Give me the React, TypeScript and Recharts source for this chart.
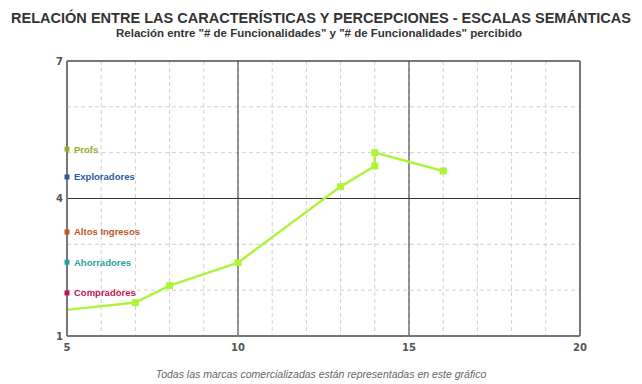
import {
  CartesianGrid,
  Line,
  LineChart,
  ReferenceLine,
  Scatter,
  XAxis,
  YAxis,
} from 'recharts'

const funcionalidades = [5, 7, 8, 10, 13, 14, 14, 16]
const percibido = [1.57, 1.73, 2.1, 2.6, 4.26, 4.71, 5.0, 4.6]

const segmentos = ['Profs', 'Exploradores', 'Altos Ingresos', 'Ahorradores', 'Compradores']
const segmentoValores = [5.08, 4.47, 3.27, 2.61, 1.94]
const segmentoColores = ['#9aab2a', '#2d5b9b', '#c0561c', '#1fa3a0', '#c2134f']

const xTicks = [5, 6, 7, 8, 9, 10, 11, 12, 13, 14, 15, 16, 17, 18, 19, 20]
const yTicks = [1, 2, 3, 4, 5, 6, 7]
const xLabels = [5, 10, 15, 20]
const yLabels = [1, 4, 7]

const lineData = funcionalidades.map((x, i) => ({ x, y: percibido[i] }))
const segData = segmentos.map((name, i) => ({
  x: 5,
  s: segmentoValores[i],
  name,
  color: segmentoColores[i],
}))

const GREEN = '#adf53a'

const tickStyle = {
  fontSize: 10,
  fontWeight: 'bold' as const,
  fill: '#555',
  fontFamily: 'Tahoma, "DejaVu Sans", sans-serif',
}

function LineDot(props: any) {
  const { cx, cy, index } = props
  if (index === 0 || cx == null) return <g />
  return <rect x={cx - 3.5} y={cy - 3.5} width={7} height={7} fill={GREEN} />
}

function SegShape(props: any) {
  const { cx, cy, payload } = props
  return (
    <g>
      <rect x={cx - 2.5} y={cy - 2.5} width={5} height={5} fill={payload.color} />
      <text
        x={cx + 7}
        y={cy + 3.5}
        fontSize={9.5}
        fontWeight="bold"
        fill={payload.color}
        fontFamily='"Liberation Sans Narrow", "Liberation Sans", Arial, sans-serif'
      >
        {payload.name}
      </text>
    </g>
  )
}

export default function App() {
  return (
    <div
      style={{
        position: 'absolute',
        left: 0,
        top: 0,
        width: 642,
        height: 384,
        background: '#fff',
        fontFamily: '"Liberation Sans", Arial, sans-serif',
      }}
    >
      <svg
        width={642}
        height={44}
        style={{ position: 'absolute', left: 0, top: 0 }}
      >
        <text
          x={321}
          y={23}
          textAnchor="middle"
          fontSize={14}
          fontWeight="bold"
          fill="#333"
          textLength={620}
          lengthAdjust="spacingAndGlyphs"
        >
          RELACIÓN ENTRE LAS CARACTERÍSTICAS Y PERCEPCIONES - ESCALAS SEMÁNTICAS
        </text>
        <text
          x={319}
          y={37}
          textAnchor="middle"
          fontSize={11.5}
          fontWeight="bold"
          fill="#333"
        >
          Relación entre "# de Funcionalidades" y "# de Funcionalidades" percibido
        </text>
      </svg>
      <LineChart
        width={642}
        height={384}
        data={lineData}
        margin={{ top: 61, right: 62, bottom: 28, left: 37 }}
      >
        <CartesianGrid stroke="#d0d0d0" strokeDasharray="4 3" />
        <XAxis
          dataKey="x"
          type="number"
          domain={[5, 20]}
          ticks={xTicks}
          interval={0}
          tickLine={false}
          tickSize={0}
          tickMargin={8}
          axisLine={{ stroke: '#777', strokeWidth: 2 }}
          height={20}
          tick={tickStyle}
          tickFormatter={(v: number) => (xLabels.includes(v) ? String(v) : '')}
        />
        <YAxis
          type="number"
          domain={[1, 7]}
          ticks={yTicks}
          interval={0}
          tickLine={false}
          tickSize={0}
          tickMargin={4}
          axisLine={{ stroke: '#777', strokeWidth: 2 }}
          width={30}
          tick={tickStyle}
          tickFormatter={(v: number) => (yLabels.includes(v) ? String(v) : '')}
        />
        <ReferenceLine y={7} stroke="#777" strokeWidth={2} />
        <ReferenceLine x={20} stroke="#777" strokeWidth={2} />
        <ReferenceLine x={10} stroke="#333" strokeWidth={1} />
        <ReferenceLine x={15} stroke="#333" strokeWidth={1} />
        <ReferenceLine y={4} stroke="#333" strokeWidth={1} />
        <Line
          type="linear"
          dataKey="y"
          stroke={GREEN}
          strokeWidth={2.5}
          dot={<LineDot />}
          activeDot={false}
          isAnimationActive={false}
        />
        <Scatter
          data={segData}
          dataKey="s"
          shape={<SegShape />}
          isAnimationActive={false}
        />
      </LineChart>
      <div
        style={{
          position: 'absolute',
          top: 368,
          width: 642,
          textAlign: 'center',
          fontSize: 10.5,
          fontStyle: 'italic',
          color: '#666',
        }}
      >
        Todas las marcas comercializadas están representadas en este gráfico
      </div>
    </div>
  )
}
